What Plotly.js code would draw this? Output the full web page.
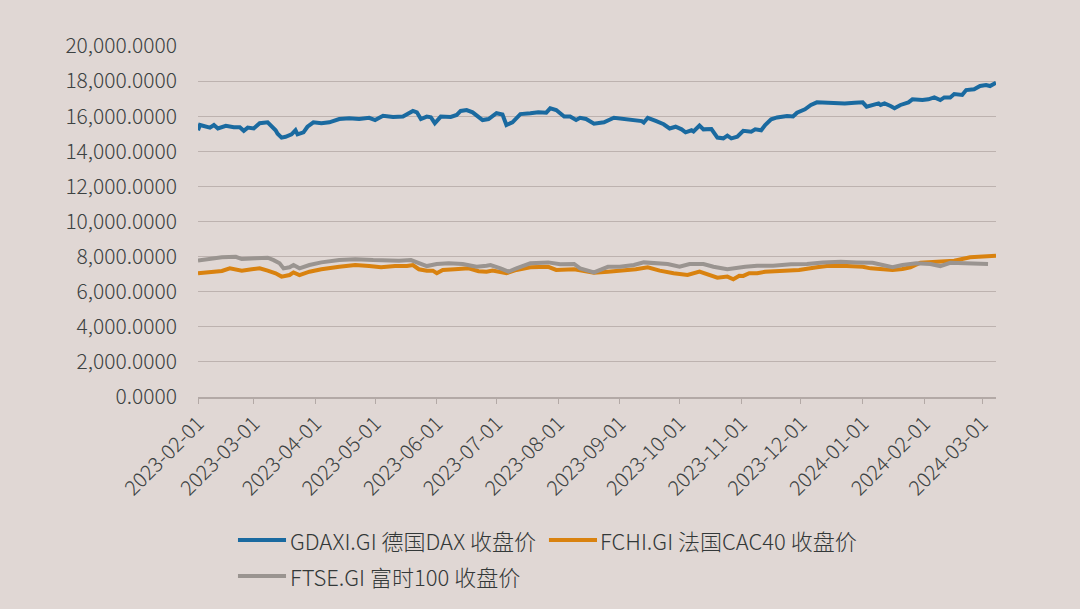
<!DOCTYPE html>
<html>
<head>
<meta charset="utf-8">
<script src="https://cdn.plot.ly/plotly-3.0.1.min.js"></script>
<style>html,body{margin:0;padding:0;background:#E0D7D4;}#chart{width:1080px;height:609px;}</style>
</head>
<body>
<div id="chart"></div>
<script>
const daxName = "GDAXI.GI 德国DAX 收盘价";
const cacName = "FCHI.GI 法国CAC40 收盘价";
const ftseName = "FTSE.GI 富时100 收盘价";

const daxDates = ["2023-02-01","2023-02-02","2023-02-07","2023-02-09","2023-02-11","2023-02-15","2023-02-19","2023-02-22","2023-02-24","2023-02-26","2023-03-01","2023-03-04","2023-03-08","2023-03-09","2023-03-12","2023-03-13","2023-03-15","2023-03-17","2023-03-20","2023-03-22","2023-03-23","2023-03-26","2023-03-28","2023-03-31","2023-04-04","2023-04-08","2023-04-13","2023-04-18","2023-04-23","2023-04-28","2023-05-01","2023-05-05","2023-05-10","2023-05-15","2023-05-20","2023-05-22","2023-05-24","2023-05-27","2023-05-29","2023-05-31","2023-06-03","2023-06-08","2023-06-11","2023-06-13","2023-06-16","2023-06-19","2023-06-24","2023-06-27","2023-07-01","2023-07-04","2023-07-06","2023-07-09","2023-07-13","2023-07-18","2023-07-22","2023-07-26","2023-07-28","2023-07-31","2023-08-04","2023-08-07","2023-08-10","2023-08-12","2023-08-15","2023-08-19","2023-08-24","2023-08-29","2023-09-03","2023-09-08","2023-09-12","2023-09-13","2023-09-15","2023-09-19","2023-09-23","2023-09-26","2023-09-29","2023-10-02","2023-10-04","2023-10-07","2023-10-08","2023-10-11","2023-10-13","2023-10-17","2023-10-20","2023-10-23","2023-10-25","2023-10-27","2023-10-30","2023-11-02","2023-11-06","2023-11-08","2023-11-11","2023-11-13","2023-11-16","2023-11-19","2023-11-24","2023-11-27","2023-11-29","2023-12-03","2023-12-06","2023-12-09","2023-12-13","2023-12-18","2023-12-23","2023-12-28","2024-01-01","2024-01-03","2024-01-06","2024-01-09","2024-01-10","2024-01-12","2024-01-15","2024-01-17","2024-01-20","2024-01-24","2024-01-26","2024-01-31","2024-02-03","2024-02-06","2024-02-09","2024-02-11","2024-02-14","2024-02-16","2024-02-20","2024-02-22","2024-02-26","2024-02-29","2024-03-03","2024-03-05","2024-03-08"];
const daxValues = [15200,15500,15350,15500,15300,15450,15370,15370,15170,15350,15300,15600,15650,15550,15200,15000,14780,14830,14970,15200,14970,15080,15400,15650,15600,15650,15840,15880,15840,15910,15780,16020,15960,15980,16300,16220,15840,15980,15940,15600,15980,15960,16070,16300,16350,16220,15780,15840,16170,16100,15500,15650,16120,16170,16230,16200,16450,16350,15980,15980,15780,15910,15840,15570,15650,15910,15840,15730,15720,15640,15910,15730,15540,15300,15400,15250,15080,15200,15130,15470,15250,15270,14780,14740,14890,14740,14830,15170,15120,15250,15200,15500,15820,15930,16010,15980,16200,16390,16640,16790,16770,16730,16730,16770,16790,16540,16660,16730,16640,16730,16580,16450,16640,16790,16960,16920,16960,17070,16920,17070,17070,17260,17210,17490,17530,17720,17780,17720,17910];

const cacDates = ["2023-02-01","2023-02-06","2023-02-13","2023-02-17","2023-02-23","2023-02-28","2023-03-04","2023-03-08","2023-03-12","2023-03-15","2023-03-19","2023-03-21","2023-03-24","2023-03-29","2023-04-04","2023-04-13","2023-04-21","2023-04-28","2023-05-04","2023-05-11","2023-05-17","2023-05-20","2023-05-23","2023-05-27","2023-05-30","2023-06-01","2023-06-04","2023-06-10","2023-06-17","2023-06-22","2023-06-26","2023-06-29","2023-07-06","2023-07-11","2023-07-18","2023-07-27","2023-07-31","2023-08-09","2023-08-19","2023-08-26","2023-09-03","2023-09-09","2023-09-15","2023-09-21","2023-09-28","2023-10-05","2023-10-11","2023-10-15","2023-10-20","2023-10-25","2023-10-28","2023-10-31","2023-11-02","2023-11-05","2023-11-09","2023-11-13","2023-11-22","2023-11-30","2023-12-09","2023-12-15","2023-12-24","2024-01-01","2024-01-05","2024-01-11","2024-01-16","2024-01-21","2024-01-25","2024-01-30","2024-02-07","2024-02-16","2024-02-24","2024-03-02","2024-03-08"];
const cacValues = [7050,7100,7180,7330,7200,7280,7330,7200,7050,6860,6950,7100,6950,7140,7280,7420,7520,7460,7390,7460,7460,7520,7280,7200,7200,7050,7240,7280,7330,7170,7140,7200,7050,7240,7390,7420,7240,7280,7080,7140,7200,7280,7390,7200,7050,6950,7140,6990,6800,6860,6710,6910,6900,7050,7050,7140,7200,7240,7390,7480,7460,7420,7330,7290,7240,7290,7390,7650,7710,7770,7960,7990,8050];

const ftseDates = ["2023-02-01","2023-02-06","2023-02-13","2023-02-20","2023-02-23","2023-03-02","2023-03-08","2023-03-11","2023-03-14","2023-03-16","2023-03-19","2023-03-21","2023-03-24","2023-03-29","2023-04-04","2023-04-13","2023-04-21","2023-04-30","2023-05-07","2023-05-13","2023-05-19","2023-05-23","2023-05-27","2023-06-01","2023-06-07","2023-06-14","2023-06-21","2023-06-26","2023-06-28","2023-07-03","2023-07-07","2023-07-11","2023-07-18","2023-07-27","2023-08-02","2023-08-09","2023-08-12","2023-08-19","2023-08-26","2023-09-01","2023-09-08","2023-09-13","2023-09-18","2023-09-25","2023-10-01","2023-10-06","2023-10-13","2023-10-18","2023-10-25","2023-10-30","2023-11-03","2023-11-09","2023-11-17","2023-11-26","2023-12-04","2023-12-12","2023-12-21","2023-12-29","2024-01-06","2024-01-11","2024-01-16","2024-01-21","2024-01-28","2024-02-04","2024-02-09","2024-02-14","2024-02-22","2024-02-27","2024-03-04"];
const ftseValues = [7770,7860,7960,7990,7860,7900,7940,7800,7620,7330,7390,7520,7330,7520,7670,7800,7850,7800,7770,7770,7800,7620,7460,7580,7620,7580,7420,7480,7520,7330,7140,7330,7620,7670,7560,7580,7330,7100,7420,7420,7520,7670,7620,7580,7420,7580,7580,7420,7280,7390,7420,7480,7480,7560,7580,7670,7710,7670,7650,7520,7390,7520,7620,7580,7460,7650,7620,7580,7580];

const yTickVals = [0,2000,4000,6000,8000,10000,12000,14000,16000,18000,20000];

const seriesNames = [daxName, cacName, ftseName];
const seriesColors = ["#1A6AA0", "#D9820F", "#9A9490"];
const FONT = "Noto Sans CJK SC, Noto Sans, sans-serif";

const traces = [
  {x: daxDates, y: daxValues, name: daxName, type: "scatter", mode: "lines", line: {color: seriesColors[0], width: 4}},
  {x: cacDates, y: cacValues, name: cacName, type: "scatter", mode: "lines", line: {color: seriesColors[1], width: 4}},
  {x: ftseDates, y: ftseValues, name: ftseName, type: "scatter", mode: "lines", line: {color: seriesColors[2], width: 4}}
];

// manual legend (paper coordinates): [lineStartX, lineEndX, textX, y]
const legendSlots = [
  [0.0501, 0.1103, 0.1128, -0.4074],
  [0.4398, 0.5000, 0.5013, -0.4074],
  [0.0501, 0.1103, 0.1128, -0.5100]
];
const shapes = legendSlots.map((s, i) => ({
  type: "line", xref: "paper", yref: "paper", x0: s[0], x1: s[1], y0: s[3], y1: s[3],
  line: {color: seriesColors[i], width: 4}, layer: "above"
}));
const annotations = legendSlots.map((s, i) => ({
  xref: "paper", yref: "paper", x: s[2], y: s[3], xanchor: "left", yanchor: "middle",
  text: seriesNames[i], showarrow: false,
  font: {family: FONT, size: 22, color: "#333838", weight: 300}
}));

const layout = {
  width: 1080, height: 609,
  paper_bgcolor: "#E0D7D4", plot_bgcolor: "#E0D7D4",
  margin: {l: 198, r: 84, t: 46, b: 212, pad: 0},
  font: {family: FONT, color: "#3C4242"},
  showlegend: false,
  shapes: shapes,
  annotations: annotations,
  xaxis: {
    type: "date", range: ["2023-02-01", "2024-03-08"],
    tick0: "2023-02-01", dtick: "M1", tickformat: "%Y-%m-%d", tickangle: -45,
    tickfont: {size: 20.5, color: "#3C4242", family: FONT, weight: 300},
    showgrid: false, showline: true, linecolor: "#B3A9A6", linewidth: 1.5,
    ticks: "outside", ticklen: 5, tickcolor: "#B3A9A6", zeroline: false, automargin: false
  },
  yaxis: {
    range: [0, 20000], tickvals: yTickVals, tickformat: ",.4f",
    tickfont: {size: 21, color: "#3C4242", family: FONT, weight: 300},
    showgrid: true, gridcolor: "#BDB2AF", gridwidth: 1.2, zeroline: false,
    showline: false, ticks: "", ticklabelstandoff: 20, automargin: false
  }
};

Plotly.newPlot("chart", traces, layout, {staticPlot: true, displayModeBar: false});
</script>
</body>
</html>
